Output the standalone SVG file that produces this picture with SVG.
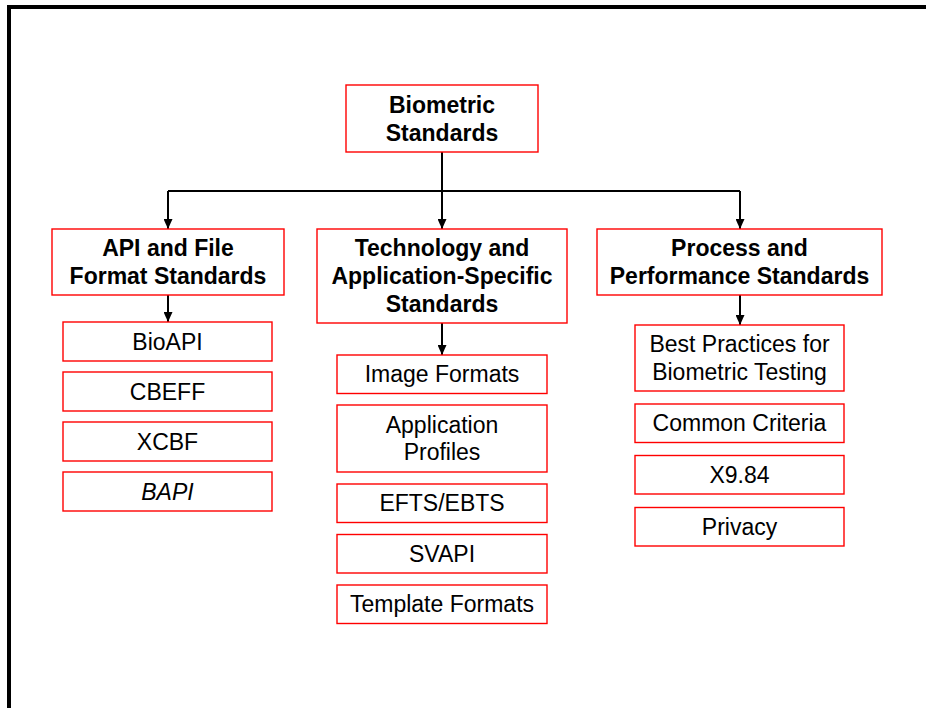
<svg xmlns="http://www.w3.org/2000/svg" width="926" height="708" viewBox="0 0 926 708">
<defs>
<style>
.box{fill:#ffffff;stroke:#ff0000;stroke-width:1.4}
.h{font-family:"Liberation Sans",Arial,sans-serif;font-weight:bold;font-size:23px;fill:#000;text-anchor:middle}
.t{font-family:"Liberation Sans",Arial,sans-serif;font-size:23px;fill:#000;text-anchor:middle}
.c{fill:none;stroke:#000;stroke-width:2}
</style>
<marker id="arr" markerUnits="userSpaceOnUse" markerWidth="10" markerHeight="9" refX="10" refY="4.5" orient="auto">
<path d="M0,0 L10,4.5 L0,9 z" fill="#000"/>
</marker>
</defs>
<rect x="0" y="0" width="926" height="708" fill="#ffffff"/>
<rect x="9" y="7" width="1000" height="800" fill="none" stroke="#000" stroke-width="4"/>
<g id="connectors">
<path class="c" d="M442,152 V229" marker-end="url(#arr)"/>
<path class="c" d="M168,191 H740"/>
<path class="c" d="M168,191 V229" marker-end="url(#arr)"/>
<path class="c" d="M740,191 V229" marker-end="url(#arr)"/>
<path class="c" d="M168,295 V322" marker-end="url(#arr)"/>
<path class="c" d="M442,323 V355" marker-end="url(#arr)"/>
<path class="c" d="M740,295 V325" marker-end="url(#arr)"/>
</g>
<g id="root">
<rect class="box" x="346" y="85" width="192" height="67"/>
<text class="h" x="442" y="112.5">Biometric</text>
<text class="h" x="442" y="140.5">Standards</text>
</g>
<g id="api">
<rect class="box" x="52" y="229" width="232" height="66"/>
<text class="h" x="168" y="256">API and File</text>
<text class="h" x="168" y="284">Format Standards</text>
</g>
<g id="tech">
<rect class="box" x="317" y="229" width="250" height="94"/>
<text class="h" x="442" y="256">Technology and</text>
<text class="h" x="442" y="284">Application-Specific</text>
<text class="h" x="442" y="312">Standards</text>
</g>
<g id="process">
<rect class="box" x="597" y="229" width="285" height="66"/>
<text class="h" x="739.5" y="256">Process and</text>
<text class="h" x="739.5" y="284">Performance Standards</text>
</g>
<g id="bioapi">
<rect class="box" x="63" y="322" width="209" height="39"/>
<text class="t" x="167.5" y="349.5">BioAPI</text>
</g>
<g id="cbeff">
<rect class="box" x="63" y="372" width="209" height="39"/>
<text class="t" x="167.5" y="399.5">CBEFF</text>
</g>
<g id="xcbf">
<rect class="box" x="63" y="422" width="209" height="39"/>
<text class="t" x="167.5" y="449.5">XCBF</text>
</g>
<g id="bapi">
<rect class="box" x="63" y="472" width="209" height="39"/>
<text class="t" x="167.5" y="499.5" font-style="italic">BAPI</text>
</g>
<g id="image-formats">
<rect class="box" x="337" y="355" width="210" height="38.5"/>
<text class="t" x="442" y="382">Image Formats</text>
</g>
<g id="app-profiles">
<rect class="box" x="337" y="405" width="210" height="67"/>
<text class="t" x="442" y="432.5">Application</text>
<text class="t" x="442" y="460">Profiles</text>
</g>
<g id="efts">
<rect class="box" x="337" y="484" width="210" height="38.5"/>
<text class="t" x="442" y="511">EFTS/EBTS</text>
</g>
<g id="svapi">
<rect class="box" x="337" y="534.5" width="210" height="38.5"/>
<text class="t" x="442" y="561.5">SVAPI</text>
</g>
<g id="template-formats">
<rect class="box" x="337" y="585" width="210" height="38.5"/>
<text class="t" x="442" y="612">Template Formats</text>
</g>
<g id="best-practices">
<rect class="box" x="635" y="325" width="209" height="66"/>
<text class="t" x="739.5" y="352">Best Practices for</text>
<text class="t" x="739.5" y="380">Biometric Testing</text>
</g>
<g id="common-criteria">
<rect class="box" x="635" y="404" width="209" height="38.5"/>
<text class="t" x="739.5" y="431">Common Criteria</text>
</g>
<g id="x984">
<rect class="box" x="635" y="455.5" width="209" height="38.5"/>
<text class="t" x="739.5" y="482.5">X9.84</text>
</g>
<g id="privacy">
<rect class="box" x="635" y="507.5" width="209" height="38.5"/>
<text class="t" x="739.5" y="534.5">Privacy</text>
</g>
</svg>
